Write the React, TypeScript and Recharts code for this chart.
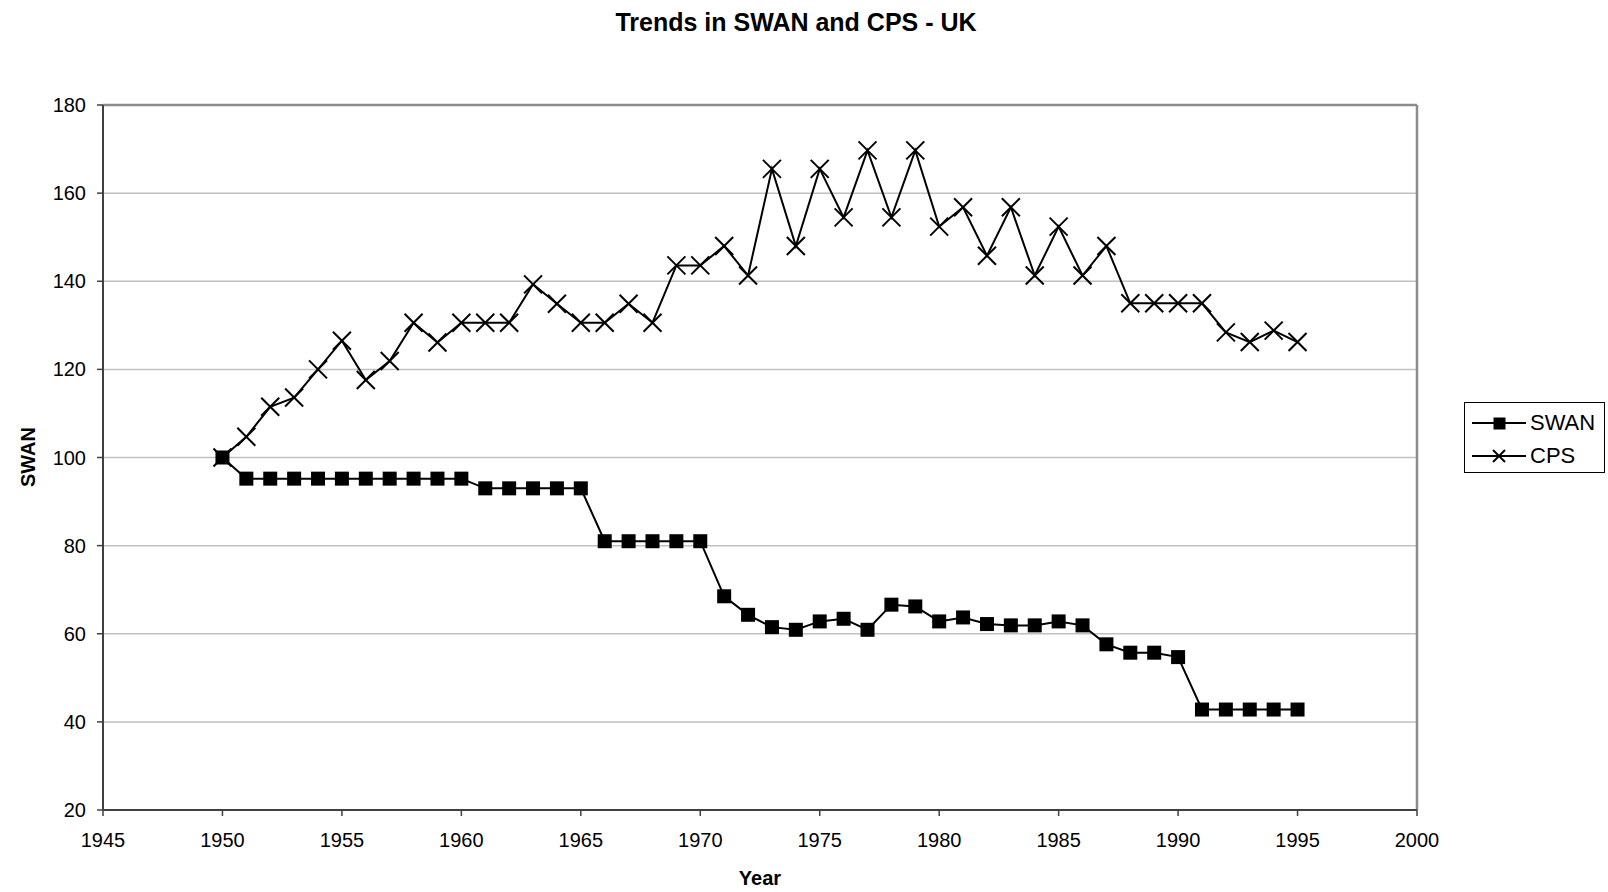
import React from 'react';
import { LineChart, Line, XAxis, YAxis, CartesianGrid, Legend, ReferenceLine, Label } from 'recharts';

const years = [1950, 1951, 1952, 1953, 1954, 1955, 1956, 1957, 1958, 1959, 1960, 1961, 1962, 1963, 1964, 1965, 1966, 1967, 1968, 1969, 1970, 1971, 1972, 1973, 1974, 1975, 1976, 1977, 1978, 1979, 1980, 1981, 1982, 1983, 1984, 1985, 1986, 1987, 1988, 1989, 1990, 1991, 1992, 1993, 1994, 1995];
const swan = [100, 95.2, 95.2, 95.2, 95.2, 95.2, 95.2, 95.2, 95.2, 95.2, 95.2, 93, 93, 93, 93, 93, 81, 81, 81, 81, 81, 68.5, 64.3, 61.5, 60.9, 62.8, 63.4, 60.9, 66.6, 66.2, 62.8, 63.7, 62.2, 61.9, 61.9, 62.8, 61.9, 57.6, 55.7, 55.7, 54.7, 42.8, 42.8, 42.8, 42.8, 42.8];
const cps = [100, 104.7, 111.5, 113.6, 120, 126.5, 117.6, 121.9, 130.6, 126.1, 130.6, 130.6, 130.6, 139.3, 134.9, 130.6, 130.6, 134.9, 130.6, 143.6, 143.6, 148, 141.3, 165.5, 148, 165.5, 154.5, 169.7, 154.5, 169.7, 152.4, 156.8, 145.8, 156.8, 141.3, 152.4, 141.3, 148, 135, 135, 135, 135, 128.4, 126.2, 128.8, 126.2];
const xTicks = [1945, 1950, 1955, 1960, 1965, 1970, 1975, 1980, 1985, 1990, 1995, 2000];
const yTicks = [20, 40, 60, 80, 100, 120, 140, 160, 180];
const title = 'Trends in SWAN and CPS - UK';
const xTitle = 'Year';
const yTitle = 'SWAN';
const seriesNames = ['SWAN', 'CPS'];

const data = years.map((y, i) => ({ year: y, SWAN: swan[i], CPS: cps[i] }));

const FONT = '"Liberation Sans", Arial, sans-serif';

const SquareDot = (props: any) => {
  const { cx, cy, index } = props;
  if (cx == null || cy == null) return <g key={`s${index}`} />;
  return <rect key={`s${index}`} x={cx - 7} y={cy - 7} width={14} height={14} fill="#000" />;
};

const CrossDot = (props: any) => {
  const { cx, cy, index } = props;
  if (cx == null || cy == null) return <g key={`c${index}`} />;
  const r = 9;
  return (
    <g key={`c${index}`}>
      <line x1={cx - r} y1={cy - r} x2={cx + r} y2={cy + r} stroke="#000" strokeWidth={2} />
      <line x1={cx - r} y1={cy + r} x2={cx + r} y2={cy - r} stroke="#000" strokeWidth={2} />
    </g>
  );
};

const LegendBox = () => (
  <div style={{ width: 139, height: 69, border: '1px solid #000', background: '#fff', fontFamily: FONT, fontSize: 22, color: '#000', position: 'relative' }}>
    <svg width={62} height={69} style={{ position: 'absolute', left: 0, top: 0 }}>
      <line x1={7} y1={20} x2={61} y2={20} stroke="#000" strokeWidth={2} />
      <rect x={28.5} y={14.5} width={12} height={12} fill="#000" />
      <line x1={7} y1={53} x2={61} y2={53} stroke="#000" strokeWidth={2} />
      <line x1={28} y1={47} x2={40} y2={59} stroke="#000" strokeWidth={2} />
      <line x1={28} y1={59} x2={40} y2={47} stroke="#000" strokeWidth={2} />
    </svg>
    <div style={{ position: 'absolute', left: 65, top: 8, lineHeight: '24px' }}>{seriesNames[0]}</div>
    <div style={{ position: 'absolute', left: 65, top: 41, lineHeight: '24px' }}>{seriesNames[1]}</div>
  </div>
);

const XTitle = (props: any) => {
  const vb = props.viewBox || {};
  return (
    <text x={vb.x + vb.width / 2} y={885} textAnchor="middle" fontFamily={FONT} fontSize={20} fontWeight="bold" fill="#000">
      {xTitle}
    </text>
  );
};

const YTitle = () => (
  <text x={35} y={457} transform="rotate(-90, 35, 457)" textAnchor="middle" fontFamily={FONT} fontSize={20} fontWeight="bold" fill="#000">
    {yTitle}
  </text>
);

export default function App() {
  return (
    <div style={{ position: 'absolute', left: 0, top: 0, width: 1608, height: 892, background: '#fff' }}>
      <div style={{ position: 'absolute', left: 0, top: 10, width: 1592, textAlign: 'center', fontFamily: FONT, fontSize: 25, fontWeight: 'bold', lineHeight: '25px', color: '#000' }}>
        {title}
      </div>
      <LineChart width={1608} height={892} data={data} margin={{ top: 105, right: 50, bottom: 22, left: 43 }}>
        <CartesianGrid vertical={false} stroke="#c0c0c0" strokeWidth={1.5} />
        <XAxis
          type="number"
          dataKey="year"
          domain={[1945, 2000]}
          ticks={xTicks}
          interval={0}
          height={60}
          tickSize={6}
          tickMargin={17}
          axisLine={{ stroke: '#404040', strokeWidth: 2 }}
          tickLine={{ stroke: '#404040', strokeWidth: 1.5 }}
          tick={{ fontSize: 20, fill: '#000', fontFamily: FONT }}
        >
          <Label content={<XTitle />} />
        </XAxis>
        <YAxis
          type="number"
          domain={[20, 180]}
          ticks={yTicks}
          interval={0}
          width={60}
          tickSize={6}
          tickMargin={11}
          axisLine={{ stroke: '#404040', strokeWidth: 2 }}
          tickLine={{ stroke: '#404040', strokeWidth: 1.5 }}
          tick={{ fontSize: 20, fill: '#000', fontFamily: FONT }}
        >
          <Label content={<YTitle />} />
        </YAxis>
        <ReferenceLine y={180} stroke="#8c8c8c" strokeWidth={2.5} />
        <ReferenceLine x={2000} stroke="#8c8c8c" strokeWidth={2.5} />
        <Legend
          layout="vertical"
          align="right"
          verticalAlign="middle"
          content={<LegendBox />}
          wrapperStyle={{ left: 1464, top: 402, right: 'auto', width: 141, height: 71 }}
        />
        <Line type="linear" dataKey="SWAN" stroke="#000" strokeWidth={2} dot={SquareDot} activeDot={false} isAnimationActive={false} />
        <Line type="linear" dataKey="CPS" stroke="#000" strokeWidth={2} dot={CrossDot} activeDot={false} isAnimationActive={false} />
      </LineChart>
    </div>
  );
}
